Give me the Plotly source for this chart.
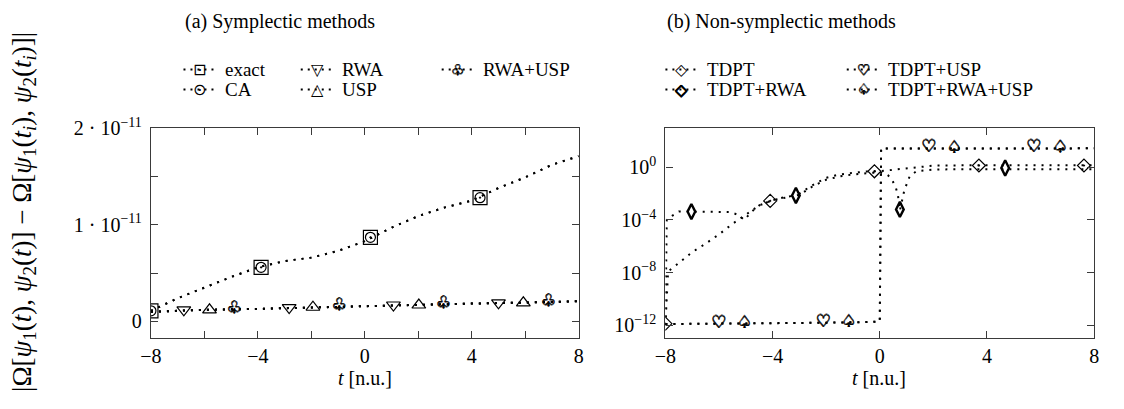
import numpy as np
import plotly.graph_objects as go

# ---------------- data: (a) symplectic methods (values in units of 1e-11) ----------------
SCALE_A = 1e-11
t_upper = [-8, -7, -6, -5, -4, -3, -2, -1, 0, 1, 2, 3, 4, 5, 6, 7, 8]
exact_vals = [0.11, 0.24, 0.35, 0.46, 0.56, 0.625, 0.66, 0.73, 0.83, 0.97, 1.09, 1.18, 1.25, 1.38, 1.49, 1.62, 1.71]
ca_vals = [0.11, 0.24, 0.35, 0.46, 0.56, 0.625, 0.66, 0.73, 0.83, 0.97, 1.09, 1.18, 1.25, 1.38, 1.49, 1.62, 1.71]
exact_mark_t = [-8, -3.88, 0.21, 4.31]
exact_mark_v = [0.11, 0.56, 0.87, 1.28]
ca_mark_t = [-8, -3.88, 0.21, 4.31]
ca_mark_v = [0.11, 0.56, 0.87, 1.28]

t_lower = [-8, -7, -6, -4, -2, 0, 2, 4, 6, 8]
rwa_vals = [0.10, 0.11, 0.12, 0.13, 0.145, 0.16, 0.17, 0.185, 0.195, 0.21]
usp_vals = [0.10, 0.11, 0.12, 0.13, 0.145, 0.16, 0.17, 0.185, 0.195, 0.21]
rwausp_vals = [0.10, 0.11, 0.12, 0.13, 0.145, 0.16, 0.17, 0.185, 0.195, 0.21]
rwa_mark_t = [-6.77, -2.83, 1.07, 5.0]
rwa_mark_v = [0.12, 0.143, 0.17, 0.193]
usp_mark_t = [-5.81, -1.94, 2.02, 5.93]
usp_mark_v = [0.12, 0.147, 0.17, 0.193]
rwausp_mark_t = [-4.89, -0.96, 2.94, 6.87]
rwausp_mark_v = [0.127, 0.16, 0.18, 0.203]

# ---------------- data: (b) non-symplectic methods (log10 of values) ----------------
tdpt_t = [-8, -7.9, -7.7, -7, -6.5, -6, -5.5, -5, -4.5, -4, -3.5, -3, -2.5, -2, -1.5, -1, -0.5, 0, 0.5, 1, 1.5, 2, 3, 4, 5, 6, 7, 8]
tdpt_log = [-12, -7.9, -7.6, -6.45, -5.8, -5.1, -4.3, -3.6, -2.9, -2.5, -2.3, -2.0, -1.35, -0.8, -0.55, -0.42, -0.33, -0.3, -0.2, -0.05, 0.05, 0.12, 0.14, 0.14, 0.14, 0.14, 0.14, 0.14]
tdpt_mark_t = [-8, -4.09, -0.2, 3.7, 7.62]
tdpt_mark_log = [-11.87, -2.56, -0.31, 0.13, 0.13]

tdptrwa_t = [-8, -7.95, -7.75, -7.5, -7, -6, -5.6, -5.3, -5.05, -4.8, -4.5, -4, -3.5, -3, -2.5, -2, -1.5, -1, -0.5, 0, 0.3, 0.45, 0.6, 0.68, 0.75, 0.9, 1.0, 1.12, 1.37, 2, 3, 4, 5, 6, 7, 8]
tdptrwa_log = [-12, -4.0, -3.69, -3.37, -3.37, -3.37, -3.4, -3.6, -4.0, -3.4, -2.9, -2.5, -2.25, -2.1, -1.45, -0.95, -0.7, -0.55, -0.45, -0.38, -0.6, -0.92, -1.55, -2.15, -3.3, -1.9, -1.3, -0.67, -0.3, -0.18, -0.15, -0.15, -0.15, -0.15, -0.15, -0.15]
tdptrwa_mark_t = [-7.03, -3.13, 0.75, 4.68]
tdptrwa_mark_log = [-3.37, -2.14, -3.2, -0.06]

tdptusp_t = [-8, -6, -4, -2, -0.5, 0, 0.05, 2, 4, 6, 8]
tdptusp_log = [-11.9, -11.88, -11.85, -11.8, -11.75, -11.7, 1.42, 1.43, 1.43, 1.43, 1.43]
tdptusp_mark_t = [-6.0, -2.1, 1.83, 5.75]
tdptusp_mark_log = [-11.87, -11.8, 1.48, 1.5]

tdptrwausp_t = [-8, -6, -4, -2, -0.5, 0, 0.05, 2, 4, 6, 8]
tdptrwausp_log = [-11.9, -11.88, -11.85, -11.8, -11.75, -11.7, 1.42, 1.43, 1.43, 1.43, 1.43]
tdptrwausp_mark_t = [-5.04, -1.15, 2.78, 6.74]
tdptrwausp_mark_log = [-11.87, -11.78, 1.41, 1.46]

# ticks and tick labels
xa_tickvals = [-8, -4, 0, 4, 8]
xa_ticktext = ["\u22128", "\u22124", "0", "4", "8"]
xa_minor = [-6, -2, 2, 6]
ya_tickvals = [0, 1, 2]
ya_ticktext = ["0", "1 \u00b7 10<sup>\u221211</sup>", "2 \u00b7 10<sup>\u221211</sup>"]
ya_minor = [0.5, 1.5]
xb_tickvals = [-8, -4, 0, 4, 8]
xb_ticktext = ["\u22128", "\u22124", "0", "4", "8"]
yb_tickexp = [-12, -8, -4, 0]
yb_ticktext = ["10<sup>\u221212</sup>", "10<sup>\u22128</sup>", "10<sup>\u22124</sup>", "10<sup>0</sup>"]

# ---------------- figure ----------------
# the page keeps the browser's default 8px body margin; size the figure so the page is 1124x409
OX, OY = 8, 8
W, H = 1124 - 2 * OX, 409 - 2 * OY
SERIF = "Liberation Serif, DejaVu Serif, serif"
GLYPH = "DejaVu Sans, Liberation Serif"
TXT = "\ufe0e"  # force text (non-emoji) presentation
BOLDEN = "0.5px 0 0 black, -0.5px 0 0 black, 0 0.5px 0 black, 0 -0.5px 0 black"
AXC = "#3a3a3a"
LINE = dict(color="black", width=2, dash="2px,6px")

def px(x):
    return (x - OX) / W

def py(y):
    return 1 - (y - OY) / H

fig = go.Figure()

def add_line(t, v, xa, ya):
    fig.add_trace(go.Scatter(x=t, y=v, mode="lines", line=LINE, xaxis=xa, yaxis=ya,
                             hoverinfo="skip", showlegend=False))

def add_marks(t, v, symbol, size, xa, ya, lw=1.2):
    fig.add_trace(go.Scatter(x=t, y=v, mode="markers", xaxis=xa, yaxis=ya, showlegend=False,
                             marker=dict(symbol=symbol, size=size, color="black",
                                         line=dict(color="black", width=lw)),
                             hoverinfo="skip"))

def add_glyphs(t, v, glyph, size, xa, ya):
    fig.add_trace(go.Scatter(x=t, y=v, mode="text", text=[glyph + TXT] * len(t), xaxis=xa, yaxis=ya,
                             textposition="middle center", showlegend=False,
                             textfont=dict(family=GLYPH, size=size, color="black", shadow=BOLDEN),
                             hoverinfo="skip"))

sa = lambda arr: [a * SCALE_A for a in arr]
lg = lambda arr: list(10.0 ** np.array(arr, dtype=float))

# (a)
add_line(t_upper, sa(exact_vals), "x", "y")
add_line(t_upper, sa(ca_vals), "x", "y")
add_line(t_lower, sa(rwa_vals), "x", "y")
add_line(t_lower, sa(usp_vals), "x", "y")
add_line(t_lower, sa(rwausp_vals), "x", "y")
add_marks(exact_mark_t, sa(exact_mark_v), "square-open", 14, "x", "y")
add_marks(ca_mark_t, sa(ca_mark_v), "circle-open-dot", 10, "x", "y")
add_marks(rwa_mark_t, sa(rwa_mark_v), "triangle-down-open", 12, "x", "y")
add_marks(usp_mark_t, sa(usp_mark_v), "triangle-up-open", 12, "x", "y")
add_glyphs(rwausp_mark_t, sa(rwausp_mark_v), "\u2667", 17, "x", "y")

# (b)
add_line(tdpt_t, lg(tdpt_log), "x2", "y2")
add_line(tdptrwa_t, lg(tdptrwa_log), "x2", "y2")
add_line(tdptusp_t, lg(tdptusp_log), "x2", "y2")
add_line(tdptrwausp_t, lg(tdptrwausp_log), "x2", "y2")
add_marks(tdpt_mark_t, lg(tdpt_mark_log), "diamond-open-dot", 10, "x2", "y2")
add_marks(tdptrwa_mark_t, lg(tdptrwa_mark_log), "diamond-tall-open", 11, "x2", "y2", lw=2.4)
add_glyphs(tdptusp_mark_t, lg(tdptusp_mark_log), "\u2661", 17, "x2", "y2")
add_glyphs(tdptrwausp_mark_t, lg(tdptrwausp_mark_log), "\u2664", 17, "x2", "y2")

axis_common = dict(showline=True, linecolor=AXC, linewidth=1.3, mirror="ticks", ticks="inside",
                   ticklen=7, tickcolor=AXC, tickwidth=1.2, showgrid=False, zeroline=False,
                   tickfont=dict(family=SERIF, size=20, color="black"), fixedrange=True)
minor_common = dict(ticks="inside", ticklen=7, tickcolor=AXC, tickwidth=1.2, showgrid=False)

fig.update_layout(
    width=W, height=H, margin=dict(l=0, r=0, t=0, b=0),
    paper_bgcolor="white", plot_bgcolor="white", showlegend=False,
    font=dict(family=SERIF, size=20, color="black"),
    xaxis=dict(domain=[px(150), px(584)], range=[-8, 8], tickmode="array",
               tickvals=xa_tickvals, ticktext=xa_ticktext, anchor="y",
               minor=dict(tickmode="array", tickvals=xa_minor, **minor_common), **axis_common),
    yaxis=dict(domain=[py(344), py(127)], range=[-0.17e-11, 2e-11], tickmode="array",
               tickvals=sa(ya_tickvals), ticktext=ya_ticktext, anchor="x", ticklabelstandoff=4,
               minor=dict(tickmode="array", tickvals=sa(ya_minor), **minor_common), **axis_common),
    xaxis2=dict(domain=[px(672), px(1107)], range=[-8, 8], tickmode="array",
                tickvals=xb_tickvals, ticktext=xb_ticktext, anchor="y2", **axis_common),
    yaxis2=dict(domain=[py(344), py(127)], type="log", range=[-12.95, 2.97], tickmode="array",
                tickvals=lg(yb_tickexp), ticktext=yb_ticktext, anchor="x2", ticklabelstandoff=4,
                **axis_common),
)

ann = []
shapes = []

def text_ann(x, y, text, size=20, xanchor="left", family=SERIF, angle=0):
    ann.append(dict(x=px(x), y=py(y), xref="paper", yref="paper", text=text, showarrow=False,
                    xanchor=xanchor, yanchor="middle", textangle=angle,
                    font=dict(family=family, size=size, color="black")))

# titles
text_ann(183, 17, "(a) Symplectic methods")
text_ann(672, 17, "(b) Non-symplectic methods")
# axis titles
text_ann(367, 385, "<i>t</i> [n.u.]", xanchor="center")
text_ann(889, 385, "<i>t</i> [n.u.]", xanchor="center")
text_ann(21, 214, "|\u03a9[<i>\u03c8</i><sub>1</sub>(<i>t</i>), <i>\u03c8</i><sub>2</sub>(<i>t</i>)] \u2212 "
         "\u03a9[<i>\u03c8</i><sub>1</sub>(<i>t<sub>i</sub></i>), <i>\u03c8</i><sub>2</sub>(<i>t<sub>i</sub></i>)]|",
         size=27, xanchor="center", angle=-90)

def legend_entry(x0, y, glyph, label, gsize=16, bold=False):
    shapes.append(dict(type="line", xref="paper", yref="paper", x0=px(x0), x1=px(x0 + 33),
                       y0=py(y), y1=py(y), line=dict(color="black", width=2, dash="2px,5px")))
    f = dict(family=GLYPH, size=gsize, color="black")
    if bold:
        f["shadow"] = BOLDEN
    ann.append(dict(x=px(x0 + 16.5), y=py(y), xref="paper", yref="paper", text=glyph + TXT,
                    showarrow=False, xanchor="center", yanchor="middle", font=f))
    text_ann(x0 + 40, y, label, size=19)

ROW1, ROW2 = 66.5, 87
legend_entry(183, ROW1, "\u22a1", "exact")
legend_entry(183, ROW2, "\u2299", "CA")
legend_entry(302, ROW1, "\u25bd", "RWA")
legend_entry(302, ROW2, "\u25b3", "USP")
legend_entry(445, ROW1, "\u2667", "RWA+USP", gsize=15, bold=True)

legend_entry(672, ROW1, "\u25c7", "TDPT")
legend_entry(672, ROW2, "\u25c7", "TDPT+RWA", bold=True)
legend_entry(856, ROW1, "\u2661", "TDPT+USP", gsize=15, bold=True)
legend_entry(856, ROW2, "\u2664", "TDPT+RWA+USP", gsize=15, bold=True)

fig.update_layout(annotations=ann, shapes=shapes)

fig.write_html("out.html")
